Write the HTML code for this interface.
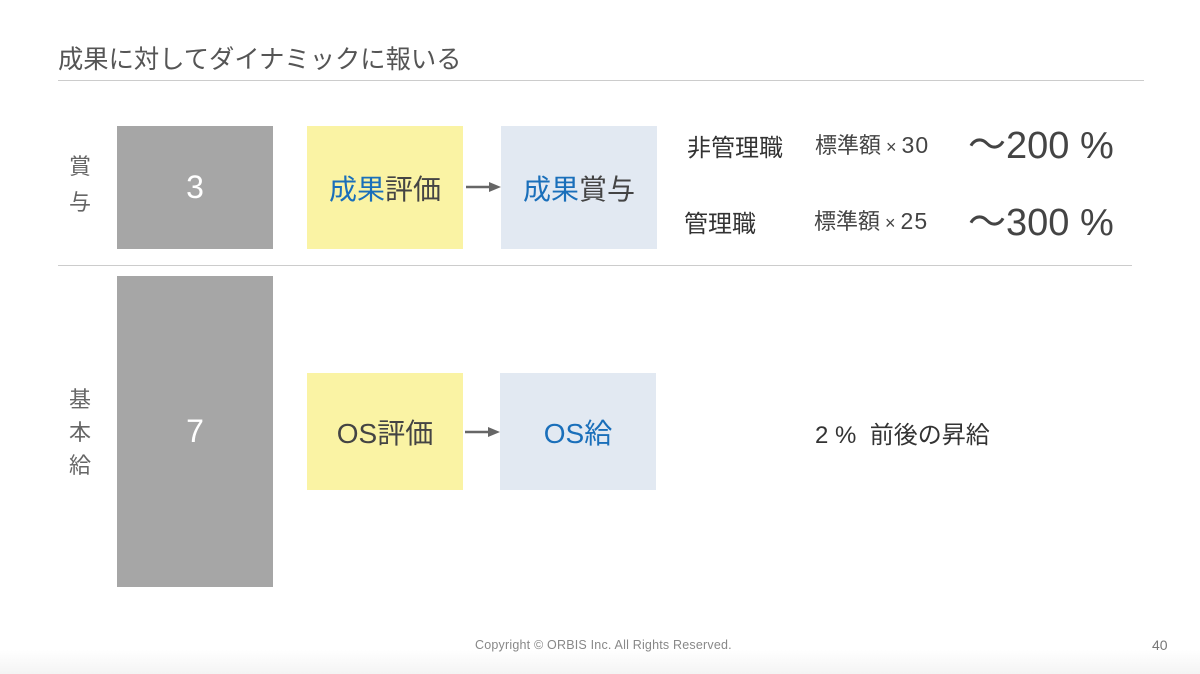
<!DOCTYPE html>
<html><head><meta charset="utf-8"><style>
body{margin:0;width:1200px;height:674px;position:relative;background:#fff;font-family:"Liberation Sans","Noto Sans CJK JP",sans-serif;color:#444;overflow:hidden}
div{position:absolute;white-space:nowrap}
.c{display:flex;align-items:center;justify-content:center}
.b{color:#1a6fba}
.g{background:#a6a6a6;color:#fff;font-size:32px}
.y{background:#faf3a4;font-size:28px}
.l{background:#e2e9f2;font-size:28px}
.v{font-size:22px;color:#666;width:40px;text-align:center;line-height:33px}
</style></head><body>
<div style="left:58px;top:40px;font-size:25.3px;color:#555">成果に対してダイナミックに報いる</div>
<div style="left:58px;top:80px;width:1086px;height:1px;background:#ccc"></div>
<div style="left:58px;top:265px;width:1074px;height:1px;background:#ccc"></div>
<div class="v" style="left:60px;top:149px;line-height:36px">賞<br>与</div>
<div class="v" style="left:60px;top:383px">基<br>本<br>給</div>
<div class="g c" style="left:117px;top:126px;width:156px;height:123px">3</div>
<div class="g c" style="left:117px;top:276px;width:156px;height:311px">7</div>
<div class="y c" style="left:307px;top:126px;width:156px;height:123px"><span><span class="b">成果</span>評価</span></div>
<div class="l c" style="left:501px;top:126px;width:156px;height:123px"><span><span class="b">成果</span>賞与</span></div>
<div class="y c" style="left:307px;top:373px;width:156px;height:117px">OS評価</div>
<div class="l c" style="left:500px;top:373px;width:156px;height:117px"><span class="b">OS給</span></div>
<svg style="position:absolute;left:0;top:0" width="1200" height="674">
<g stroke="#666" stroke-width="2.5" fill="#666">
<line x1="466" y1="187" x2="490" y2="187"/><polygon points="501,187 489,182 489,192" stroke="none"/>
<line x1="465" y1="432" x2="489" y2="432"/><polygon points="500,432 488,427 488,437" stroke="none"/>
</g></svg>
<div style="left:687px;top:128px;font-size:24px;color:#333">非管理職</div>
<div style="left:684px;top:204px;font-size:24px;color:#333">管理職</div>
<div style="left:815px;top:128px;font-size:22px">標準額<span style="font-size:18px"> × </span><span style="font-size:23px;letter-spacing:1px">30</span></div>
<div style="left:814px;top:204px;font-size:22px">標準額<span style="font-size:18px"> × </span><span style="font-size:23px;letter-spacing:1px">25</span></div>
<div style="left:968px;top:114px;font-size:38px">〜200&nbsp;%</div>
<div style="left:968px;top:191px;font-size:38px">〜300&nbsp;%</div>
<div style="left:815px;top:415px;font-size:24px;color:#333">2&nbsp;%&nbsp;&nbsp;前後の昇給</div>
<div style="left:0;top:650px;width:1200px;height:24px;background:linear-gradient(#fff,#f4f4f4)"></div>
<div style="left:475px;top:638px;font-size:12.5px;color:#888;letter-spacing:0.2px">Copyright © ORBIS Inc. All Rights Reserved.</div>
<div style="left:1152px;top:637px;font-size:14px;color:#777">40</div>
</body></html>
